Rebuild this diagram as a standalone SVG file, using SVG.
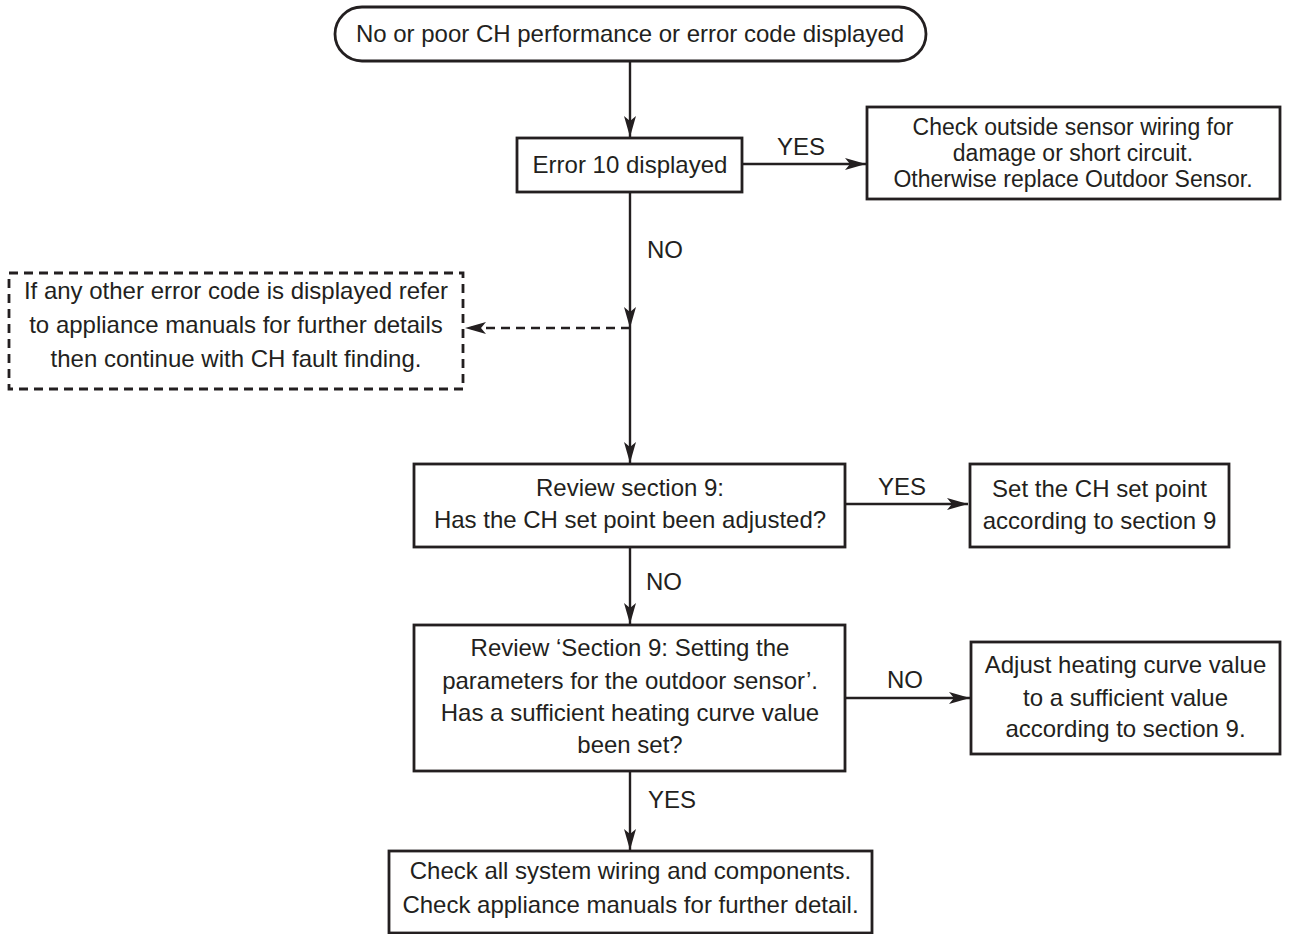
<svg xmlns="http://www.w3.org/2000/svg" width="1314" height="934" viewBox="0 0 1314 934">
<style>
.box{fill:#fff;stroke:#231f20;stroke-width:2.8}
.dbox{fill:#fff;stroke:#231f20;stroke-width:2.8;stroke-dasharray:9,6}
.ln{fill:none;stroke:#231f20;stroke-width:2.4}
.dl{fill:none;stroke:#231f20;stroke-width:2.4;stroke-dasharray:9,6}
text{font-family:"Liberation Sans",Arial,sans-serif;font-size:24px;fill:#231f20;text-anchor:middle}
.tight{font-size:23px}
</style>
<defs>
<marker id="ah" markerWidth="22" markerHeight="14" refX="21" refY="7" orient="auto" markerUnits="userSpaceOnUse">
<path d="M0,1 L21,7 L0,13 L5,7 z" fill="#231f20"/>
</marker>
</defs>
<g id="connectors">
<line class="ln" x1="630" y1="61" x2="630" y2="137" marker-end="url(#ah)"/>
<line class="ln" x1="742" y1="164" x2="866" y2="164" marker-end="url(#ah)"/>
<line class="ln" x1="630" y1="192" x2="630" y2="328" marker-end="url(#ah)"/>
<line class="dl" x1="630" y1="328" x2="465" y2="328" marker-end="url(#ah)"/>
<line class="ln" x1="630" y1="328" x2="630" y2="463" marker-end="url(#ah)"/>
<line class="ln" x1="845" y1="504" x2="968" y2="504" marker-end="url(#ah)"/>
<line class="ln" x1="630" y1="547" x2="630" y2="624" marker-end="url(#ah)"/>
<line class="ln" x1="845" y1="698" x2="970" y2="698" marker-end="url(#ah)"/>
<line class="ln" x1="630" y1="771" x2="630" y2="850" marker-end="url(#ah)"/>
<text x="801" y="155">YES</text>
<text x="665" y="258">NO</text>
<text x="902" y="495">YES</text>
<text x="664" y="590">NO</text>
<text x="905" y="688">NO</text>
<text x="672" y="808">YES</text>
</g>
<g id="start">
<rect class="box" x="335" y="7" width="591" height="54" rx="27"/>
<text x="630" y="42">No or poor CH performance or error code displayed</text>
</g>
<g id="error10">
<rect class="box" x="517" y="138" width="225" height="54"/>
<text x="630" y="173">Error 10 displayed</text>
</g>
<g id="check-sensor">
<rect class="box" x="867" y="107" width="413" height="92"/>
<text class="tight" x="1073" y="135">Check outside sensor wiring for</text>
<text class="tight" x="1073" y="161">damage or short circuit.</text>
<text class="tight" x="1073" y="187">Otherwise replace Outdoor Sensor.</text>
</g>
<g id="other-error">
<rect class="dbox" x="9" y="273" width="454" height="116"/>
<text x="236" y="299">If any other error code is displayed refer</text>
<text x="236" y="333">to appliance manuals for further details</text>
<text x="236" y="367">then continue with CH fault finding.</text>
</g>
<g id="review-setpoint">
<rect class="box" x="414" y="464" width="431" height="83"/>
<text x="630" y="496">Review section 9:</text>
<text x="630" y="528">Has the CH set point been adjusted?</text>
</g>
<g id="set-setpoint">
<rect class="box" x="970" y="464" width="259" height="83"/>
<text x="1099.5" y="497">Set the CH set point</text>
<text x="1099.5" y="529">according to section 9</text>
</g>
<g id="review-curve">
<rect class="box" x="414" y="625" width="431" height="146"/>
<text x="630" y="656">Review ‘Section 9: Setting the</text>
<text x="630" y="689">parameters for the outdoor sensor’.</text>
<text x="630" y="721">Has a sufficient heating curve value</text>
<text x="630" y="753">been set?</text>
</g>
<g id="adjust-curve">
<rect class="box" x="971" y="642" width="309" height="112"/>
<text x="1125.5" y="673">Adjust heating curve value</text>
<text x="1125.5" y="706">to a sufficient value</text>
<text x="1125.5" y="737">according to section 9.</text>
</g>
<g id="check-all">
<rect class="box" x="389" y="851" width="483" height="82"/>
<text x="630.5" y="879">Check all system wiring and components.</text>
<text x="630.5" y="913">Check appliance manuals for further detail.</text>
</g>
</svg>
